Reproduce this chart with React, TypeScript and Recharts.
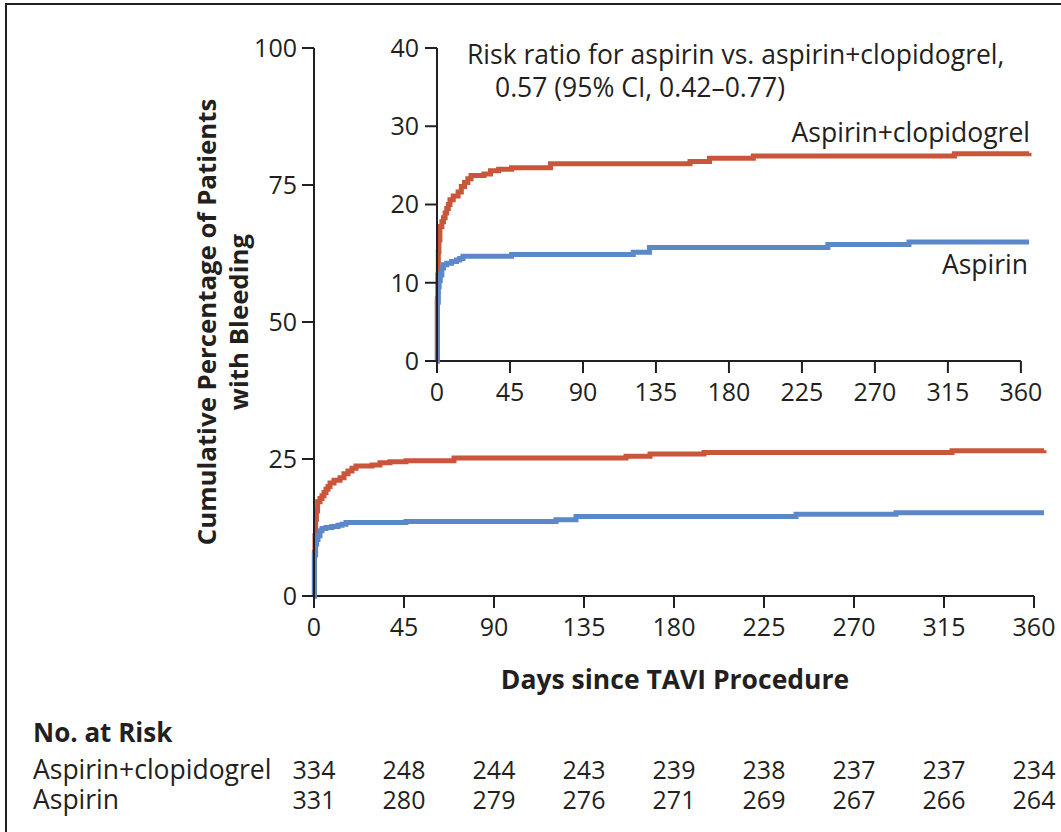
import { LineChart, Line, XAxis, YAxis, ReferenceLine } from "recharts";

// x axis ticks (days) shared by main plot, inset and the risk table
const dayTicks = [0, 45, 90, 135, 180, 225, 270, 315, 360];
const mainPctTicks = [0, 25, 50, 75, 100];
const insetPctTicks = [0, 10, 20, 30, 40];

// Kaplan-Meier style step curves
const comboDays = [0, 0.2, 0.5, 0.8, 1.2, 1.8, 3, 4, 5, 6, 7, 8, 10, 13, 15, 17, 19, 21, 29, 33, 38, 46, 70, 156, 168, 195, 319, 365];
const comboPct = [0, 8, 11, 14, 15.5, 17.2, 17.8, 18.3, 18.9, 19.5, 20, 20.6, 21.1, 21.6, 22.3, 22.8, 23.3, 23.7, 23.9, 24.3, 24.5, 24.7, 25.2, 25.5, 25.9, 26.2, 26.5, 26.6];

const aspirinDays = [0, 0.2, 0.8, 1.3, 2, 3, 4, 6, 9, 12, 14, 16, 46, 121, 131, 241, 291, 365];
const aspirinPct = [0, 7.5, 9.5, 10.3, 11, 11.9, 12.3, 12.5, 12.7, 12.9, 13.1, 13.4, 13.6, 13.9, 14.5, 14.9, 15.2, 15.2];

// number at risk at each day tick
const riskCombo = [334, 248, 244, 243, 239, 238, 237, 237, 234];
const riskAspirin = [331, 280, 279, 276, 271, 269, 267, 266, 264];

const comboData = comboDays.map((day, i) => ({ day, pct: comboPct[i] }));
const aspirinData = aspirinDays.map((day, i) => ({ day, pct: aspirinPct[i] }));

const RED = "#c9553b";
const BLUE = "#5b88c8";
const INK = "#231f20";
const FONT = "'Open Sans', 'Noto Sans', sans-serif";
const FS = 25; // tick numbers
const LFS = 26.5; // labels

const tickStyle = { fill: INK, fontSize: FS, fontFamily: FONT };
const axisStroke = { stroke: INK, strokeWidth: 2 };

// day tick label plus the two number-at-risk values under the same x
function DayTickWithRisk(props: any) {
  const { x, y, payload } = props;
  const i = dayTicks.indexOf(payload.value);
  return (
    <g fontFamily={FONT} fontSize={FS} fill={INK} textAnchor="middle">
      <text x={x} y={y} dy="0.71em">
        {payload.value}
      </text>
      <text x={x} y={y + 161}>{riskCombo[i]}</text>
      <text x={x} y={y + 191}>{riskAspirin[i]}</text>
    </g>
  );
}

function Curves() {
  return [
    <Line
      key="combo"
      data={comboData}
      dataKey="pct"
      xAxisId="days"
      type="stepAfter"
      stroke={RED}
      strokeWidth={5}
      dot={false}
      activeDot={false}
      isAnimationActive={false}
    />,
    <Line
      key="asp"
      data={aspirinData}
      dataKey="pct"
      xAxisId="days"
      type="stepAfter"
      stroke={BLUE}
      strokeWidth={5}
      dot={false}
      activeDot={false}
      isAnimationActive={false}
    />,
  ];
}

export default function App() {
  return (
    <div
      style={{
        position: "absolute",
        left: 0,
        top: 0,
        width: 1061,
        height: 832,
        background: "#fff",
        overflow: "hidden",
      }}
    >
      <div
        style={{
          position: "absolute",
          left: 5,
          top: 3,
          width: 1100,
          height: 900,
          borderTop: `2px solid ${INK}`,
          borderLeft: `2px solid ${INK}`,
        }}
      />

      {/* main chart, 0-100 % */}
      <div style={{ position: "absolute", left: 0, top: 0 }}>
        <LineChart width={1061} height={832} margin={{ top: 48, right: 17, bottom: 16, left: 254 }}>
          <XAxis
            xAxisId="days"
            type="number"
            dataKey="day"
            domain={[0, 365]}
            ticks={dayTicks}
            interval={0}
            height={220}
            axisLine={false}
            tickLine={axisStroke}
            tickSize={12}
            tickMargin={10}
            tick={<DayTickWithRisk />}
          />
          <YAxis
            type="number"
            domain={[0, 100]}
            ticks={mainPctTicks}
            interval={0}
            width={60}
            axisLine={axisStroke}
            tickLine={axisStroke}
            tickSize={12}
            tickMargin={5}
            tick={tickStyle}
          />
          <ReferenceLine
            xAxisId="days"
            segment={[{ x: 0, y: 0 }, { x: 360, y: 0 }]}
            stroke={INK}
            strokeWidth={2}
          />
          {Curves()}
        </LineChart>
      </div>

      {/* inset, zoomed to 0-40 % */}
      <div style={{ position: "absolute", left: 0, top: 0 }}>
        <LineChart width={1061} height={420} margin={{ top: 48, right: 32, bottom: 19, left: 387 }}>
          <XAxis
            xAxisId="days"
            type="number"
            dataKey="day"
            domain={[0, 365]}
            ticks={dayTicks}
            interval={0}
            height={40}
            axisLine={false}
            tickLine={axisStroke}
            tickSize={12}
            tickMargin={10}
            tick={tickStyle}
          />
          <YAxis
            type="number"
            domain={[0, 40]}
            ticks={insetPctTicks}
            interval={0}
            width={50}
            axisLine={axisStroke}
            tickLine={axisStroke}
            tickSize={12}
            tickMargin={6}
            tick={tickStyle}
          />
          <ReferenceLine
            xAxisId="days"
            segment={[{ x: 0, y: 0 }, { x: 360, y: 0 }]}
            stroke={INK}
            strokeWidth={2}
          />
          {Curves()}
        </LineChart>
      </div>

      {/* titles and annotations */}
      <svg
        width={1061}
        height={832}
        style={{ position: "absolute", left: 0, top: 0, pointerEvents: "none" }}
        fontFamily={FONT}
        fill={INK}
      >
        <text x={216} y={322} fontSize={25.8} fontWeight={700} textAnchor="middle" transform="rotate(-90 216 322)">
          Cumulative Percentage of Patients
        </text>
        <text x={248} y={322} fontSize={25.8} fontWeight={700} textAnchor="middle" transform="rotate(-90 248 322)">
          with Bleeding
        </text>
        <text x={675} y={689} fontSize={LFS} fontWeight={700} textAnchor="middle">
          Days since TAVI Procedure
        </text>

        <text x={467} y={64} fontSize={LFS}>
          Risk ratio for aspirin vs. aspirin+clopidogrel,
        </text>
        <text x={495} y={97} fontSize={LFS}>
          0.57 (95% CI, 0.42–0.77)
        </text>
        <text x={1030} y={142} fontSize={LFS} textAnchor="end">
          Aspirin+clopidogrel
        </text>
        <text x={1028} y={274} fontSize={LFS} textAnchor="end">
          Aspirin
        </text>

        <text x={33} y={742} fontSize={26} fontWeight={700}>
          No. at Risk
        </text>
        <text x={33} y={779} fontSize={LFS}>
          Aspirin+clopidogrel
        </text>
        <text x={33} y={809} fontSize={LFS}>
          Aspirin
        </text>
      </svg>
    </div>
  );
}
